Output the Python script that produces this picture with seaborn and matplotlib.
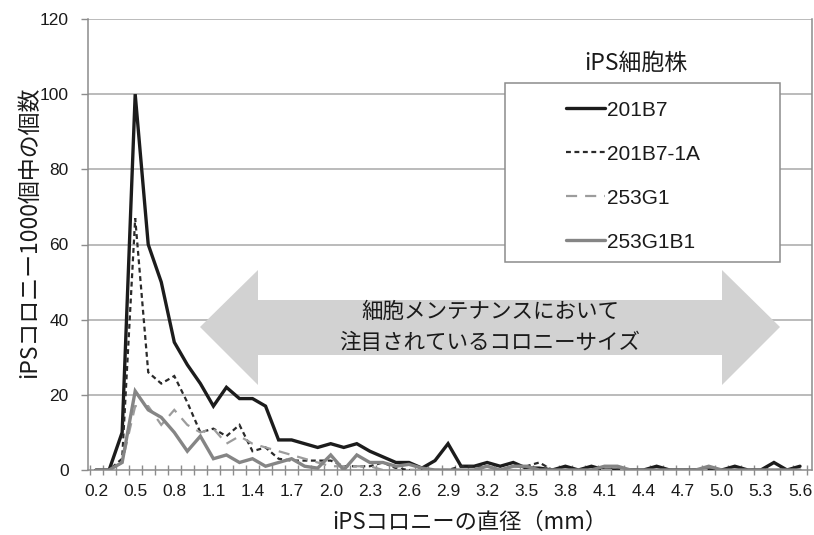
import numpy as np
import pandas as pd
import matplotlib
matplotlib.use("Agg")
import matplotlib.pyplot as plt
from matplotlib.lines import Line2D
from matplotlib.patches import Polygon, Rectangle
from matplotlib.ticker import FixedLocator, NullFormatter
import seaborn as sns

# colony diameter classes (mm)
diameters = ["0.2", "0.3", "0.4", "0.5", "0.6", "0.7", "0.8", "0.9", "1.0", "1.1",
             "1.2", "1.3", "1.4", "1.5", "1.6", "1.7", "1.8", "1.9", "2.0", "2.1",
             "2.2", "2.3", "2.4", "2.5", "2.6", "2.7", "2.8", "2.9", "3.0", "3.1",
             "3.2", "3.3", "3.4", "3.5", "3.6", "3.7", "3.8", "3.9", "4.0", "4.1",
             "4.2", "4.3", "4.4", "4.5", "4.6", "4.7", "4.8", "4.9", "5.0", "5.1",
             "5.2", "5.3", "5.4", "5.5", "5.6"]
tick_labels = ["0.2", "0.5", "0.8", "1.1", "1.4", "1.7", "2.0", "2.3", "2.6", "2.9",
               "3.2", "3.5", "3.8", "4.1", "4.4", "4.7", "5.0", "5.3", "5.6"]
y_ticks = [0, 20, 40, 60, 80, 100, 120]

# colonies per 1000 in each diameter class
line_201B7 = [0, 0, 10, 100, 60, 50, 34, 28, 23, 17,
              22, 19, 19, 17, 8, 8, 7, 6, 7, 6,
              7, 5, 3.5, 2, 2, 0.5, 2.5, 7, 1, 1,
              2, 1, 2, 0.5, 0.5, 0, 1, 0, 1, 0,
              0, 0, 0, 1, 0, 0, 0, 0, 0, 1,
              0, 0, 2, 0, 1]
line_201B7_1A = [0, 0, 3, 67, 26, 23, 25, 18, 10, 11,
                 9, 12, 5, 6, 3, 2.5, 2.5, 2.5, 2.5, 1,
                 1, 1, 2, 0.5, 0, 0, 0, 0, 1, 1,
                 1, 0, 1, 1, 2, 0, 0, 0, 0, 0,
                 0, 0, 0, 0, 0, 0, 0, 0, 0, 0,
                 0, 0, 0, 0, 0]
line_253G1 = [0, 0, 2, 17, 17, 12, 16, 12, 10, 11,
              7, 9, 7, 6, 5, 4, 3, 2, 1, 1,
              1, 1, 0, 0, 0, 0, 0, 0, 0, 0,
              0, 0, 0, 0, 0, 0, 0, 0, 0, 0,
              0, 0, 0, 0, 0, 0, 0, 0, 0, 0,
              0, 0, 0, 0, 0]
line_253G1B1 = [0, 0, 2, 21, 16, 14, 10, 5, 9, 3,
                4, 2, 3, 1, 2, 3, 1, 0.5, 4, 0,
                4, 2, 2, 1, 1.5, 0.5, 0, 0, 0, 0,
                1, 0, 1, 1, 0, 0, 0, 0, 0, 1,
                1, 0, 0, 0, 0, 0, 0, 1, 0, 0,
                0, 0, 0, 0, 0]

series_names = ["201B7", "201B7-1A", "253G1", "253G1B1"]
series_values = [line_201B7, line_201B7_1A, line_253G1, line_253G1B1]

palette = {"201B7": "#1c1c1c", "201B7-1A": "#2a2a2a",
           "253G1": "#9c9c9c", "253G1B1": "#858585"}
dash_map = {"201B7": "", "201B7-1A": (2.2, 1.6),
            "253G1": (5, 3.6), "253G1B1": ""}
width_map = {"201B7": 2.4, "201B7-1A": 1.6, "253G1": 1.6, "253G1B1": 2.4}

pos = np.arange(len(diameters))
df = pd.concat([
    pd.DataFrame({"pos": pos, "diameter": diameters, "count": vals, "line": name})
    for name, vals in zip(series_names, series_values)
], ignore_index=True)

sns.set_theme(style="white")
plt.rcParams["font.family"] = ["Liberation Sans Narrow", "Liberation Sans", "DejaVu Sans"]
cjk = ["Noto Sans CJK JP", "DejaVu Sans"]

W, H = 814, 535
fig = plt.figure(figsize=(W / 100, H / 100), dpi=100)
ax = fig.add_axes([88 / W, 1 - 470 / H, (812 - 88) / W, (470 - 19) / H])

grid_c = "#a8a8a8"
for v in y_ticks[1:]:
    ax.axhline(v, color=grid_c, lw=1.1, zorder=0.5)

sns.lineplot(data=df, x="pos", y="count", hue="line", style="line", size="line",
             palette=palette, dashes=dash_map, sizes=width_map,
             hue_order=series_names, style_order=series_names, size_order=series_names,
             legend=False, ax=ax, zorder=3)
for ln in ax.lines:
    ln.set_solid_joinstyle("miter")
    ln.set_dash_joinstyle("miter")

ax.set_xlabel("")
ax.set_ylabel("")
ax.set_xlim(-0.62, len(diameters) - 0.08)
ax.set_ylim(0, 120)

ax.set_xticks(pos[::3])
ax.set_xticklabels(tick_labels, fontsize=12.5, color="#1a1a1a")
ax.xaxis.set_minor_locator(FixedLocator(np.arange(-0.5, len(diameters), 1.0)))
ax.xaxis.set_minor_formatter(NullFormatter())
ax.tick_params(axis="x", which="major", length=0, pad=10)
ax.tick_params(axis="x", which="minor", direction="inout", length=7, width=1, color="#8c8c8c", bottom=True)

ax.set_yticks(y_ticks)
ax.set_yticklabels([str(v) for v in y_ticks], fontsize=12.5, color="#1a1a1a")
ax.tick_params(axis="y", direction="out", length=5, width=1, color="#8c8c8c", left=True, pad=9)

for side in ["left", "bottom", "right"]:
    ax.spines[side].set_color("#8c8c8c")
    ax.spines[side].set_linewidth(1.1)
ax.spines["top"].set_visible(False)


def fx(px):
    return px / W


def fy(py):
    return 1 - py / H


# axis titles
fig.text(fx(470), fy(522), "iPSコロニーの直径（mm）", family=cjk, fontsize=16,
         ha="center", va="center", color="#1a1a1a")
fig.text(fx(30), fy(232), "iPSコロニー1000個中の個数", family=cjk, fontsize=16.5,
         ha="center", va="center", rotation=90, color="#1a1a1a")

# double-headed arrow marking the maintenance size range
arrow_pts = [(200, 327), (258, 270), (258, 300), (722, 300), (722, 270), (780, 327),
             (722, 385), (722, 355), (258, 355), (258, 385)]
fig.patches.append(Polygon([(fx(x), fy(y)) for x, y in arrow_pts], closed=True,
                           transform=fig.transFigure, facecolor="#d2d2d2",
                           edgecolor="none", zorder=2))
fig.text(fx(490), fy(312), "細胞メンテナンスにおいて", family=cjk, fontsize=15.5,
         ha="center", va="center", color="#1a1a1a", zorder=5)
fig.text(fx(490), fy(343), "注目されているコロニーサイズ", family=cjk, fontsize=15.5,
         ha="center", va="center", color="#1a1a1a", zorder=5)

# legend box with its title above it
fig.patches.append(Rectangle((fx(505), fy(262)), fx(780) - fx(505), fy(83) - fy(262),
                             transform=fig.transFigure, facecolor="white",
                             edgecolor="#8c8c8c", lw=1.1, zorder=4))
fig.text(fx(636), fy(63), "iPS細胞株", family=cjk, fontsize=16.5,
         ha="center", va="center", color="#1a1a1a")
handles = []
for n in series_names:
    h = Line2D([], [], color=palette[n], lw=width_map[n])
    if dash_map[n]:
        h.set_dashes(dash_map[n])
    handles.append(h)
leg = fig.legend(handles, series_names, loc="upper left",
                 bbox_to_anchor=(fx(549), fy(84)), bbox_transform=fig.transFigure,
                 frameon=False, fontsize=15, handlelength=1.9, handletextpad=0.1,
                 labelspacing=1.2, borderpad=0.3)
leg.set_zorder(6)
for t in leg.get_texts():
    t.set_color("#1a1a1a")

fig.savefig("out.png", dpi=100, facecolor="white")
